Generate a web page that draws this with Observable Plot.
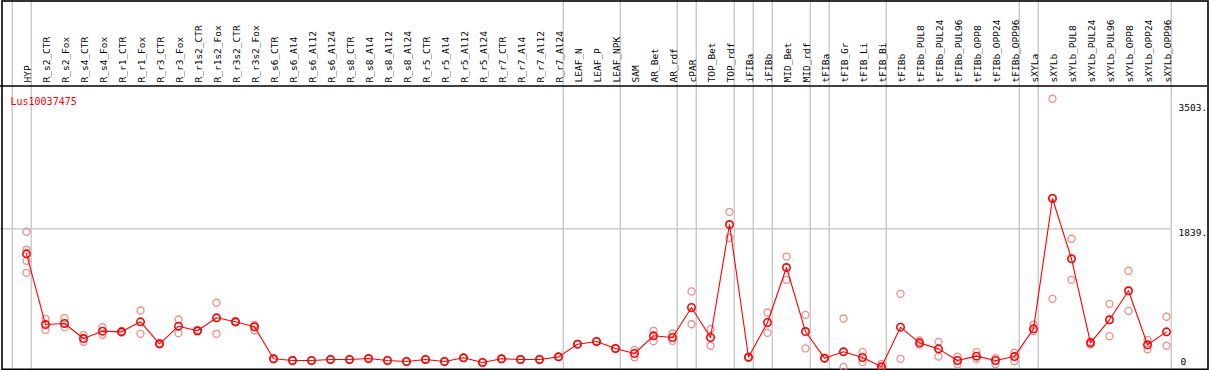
<!DOCTYPE html>
<html>
<head>
<meta charset="utf-8">
<script src="https://cdn.jsdelivr.net/npm/d3@7"></script>
<script src="https://cdn.jsdelivr.net/npm/@observablehq/plot@0.6"></script>
<style>
  html, body { margin: 0; padding: 0; background: #fff; }
  svg { display: block; }
</style>
</head>
<body>
<div id="chart"></div>
<script>
const title = "Lus10037475";
const categories = ["HYP","R_s2_CTR","R_s2_Fox","R_s4_CTR","R_s4_Fox","R_r1_CTR","R_r1_Fox","R_r3_CTR","R_r3_Fox","R_r1s2_CTR","R_r1s2_Fox","R_r3s2_CTR","R_r3s2_Fox","R_s6_CTR","R_s6_Al4","R_s6_Al12","R_s6_Al24","R_s8_CTR","R_s8_Al4","R_s8_Al12","R_s8_Al24","R_r5_CTR","R_r5_Al4","R_r5_Al12","R_r5_Al24","R_r7_CTR","R_r7_Al4","R_r7_Al12","R_r7_Al24","LEAF_N","LEAF_P","LEAF_NPK","SAM","AR_Bet","AR_rdf","cPAR","TOP_Bet","TOP_rdf","iFIBa","iFIBb","MID_Bet","MID_rdf","tFIBa","tFIB_Gr","tFIB_Li","tFIB_Bi","tFIBb","tFIBb_PUL8","tFIBb_PUL24","tFIBb_PUL96","tFIBb_OPP8","tFIBb_OPP24","tFIBb_OPP96","sXYLa","sXYLb","sXYLb_PUL8","sXYLb_PUL24","sXYLb_PUL96","sXYLb_OPP8","sXYLb_OPP24","sXYLb_OPP96"];
const meanValues = [1507,568,582,382,480,471,604,312,546,485,657,604,538,113,90,90,104,104,117,90,77,104,77,126,64,113,104,104,139,307,343,250,183,418,396,794,396,1896,134,595,1325,475,121,206,130,7,533,325,245,90,148,90,143,511,2242,1441,325,631,1016,299,471];
const replicateValues = [
  [1800,1564,1414,1255],[644,498],[652,533],[431,339],[533,431],[480,462],[754,445],[320,305],[635,453],[495,476],
  [857,445],[612,597],[564,489],[118,108],[94,86],[92,88],[106,102],[106,102],[119,115],[92,88],
  [79,75],[106,102],[79,75],[128,124],[66,62],[115,111],[106,102],[106,102],[141,137],[309,305],
  [345,341],[252,248],[232,134],[485,347],[449,352],[1007,572],[506,286],[2065,1720],[140,128],[728,458],
  [1471,1162],[697,250],[126,116],[648,5],[201,68],[46,0],[976,113],[356,300],[338,143],[143,37],
  [201,113],[121,41],[193,81],[568,480],[3566,910,2250],[1707,1162],[303,340],[843,413],[1282,750],[365,240],
  [671,286]
];
const groupBreaks = [-1,0,28,31,34,35,37,38,39,41,42,45,52,53,60];
const gridValues = [1839];
const yTicks = [0,1839,3503];
const yTickLabels = ["0","1839.","3503."];

const meanRows = meanValues.map((v, i) => ({i, v}));
const repRows = replicateValues.flatMap((arr, i) => arr.map(v => ({i, v})));
const tickRows = yTicks.map((v, i) => ({v, label: yTickLabels[i]}));
const yTop = 3729;

const chart = Plot.plot({
  width: 1209,
  height: 370,
  marginLeft: 0,
  marginRight: 39,
  marginTop: 86,
  marginBottom: 3.2,
  style: {fontFamily: "'DejaVu Sans Mono', monospace", background: "#fff"},
  x: {type: "linear", domain: [-26/19, (1170-26)/19], axis: null},
  y: {domain: [0, yTop], axis: null},
  marks: [
    Plot.ruleX(groupBreaks, {x: d => d + 0.25, stroke: "#c4c4c4", strokeWidth: 1.3, insetTop: -86, insetBottom: -3.2}),
    Plot.ruleY(gridValues, {stroke: "#c4c4c4", strokeWidth: 1.3}),
    Plot.ruleY([yTop], {stroke: "#000", strokeWidth: 1.5, insetRight: -37, dy: -0.5}),
    Plot.frame({stroke: "#000", strokeWidth: 1.6, insetLeft: 1.5, insetRight: -37.5, insetTop: -85.5, insetBottom: -2}),
    Plot.text(categories, {x: (d, i) => i, text: d => d, frameAnchor: "top", dx: -2, dy: -4, rotate: -90, textAnchor: "start", fontSize: 9.5, fill: "#000"}),
    Plot.text([title], {text: d => d, frameAnchor: "top-left", dx: 10, dy: 11, textAnchor: "start", fill: "red", fontSize: 10}),
    Plot.text(tickRows.filter(d => d.v > 0), {y: "v", text: "label", frameAnchor: "right", dx: 8, dy: 4, textAnchor: "start", fontSize: 9.5, fill: "#000"}),
    Plot.text(tickRows.filter(d => d.v === 0), {y: "v", text: "label", frameAnchor: "right", dx: 10, dy: -5, textAnchor: "start", fontSize: 9.5, fill: "#000"}),
    Plot.dot(repRows, {x: "i", y: "v", r: 3.5, stroke: "#f08c8c", strokeWidth: 1.3, fill: "none"}),
    Plot.line(meanRows, {x: "i", y: "v", stroke: "red", strokeWidth: 1.1}),
    Plot.dot(meanRows, {x: "i", y: "v", r: 3.7, stroke: "red", strokeWidth: 1.6, fill: "none"})
  ]
});
document.getElementById("chart").appendChild(chart);
</script>
</body>
</html>
